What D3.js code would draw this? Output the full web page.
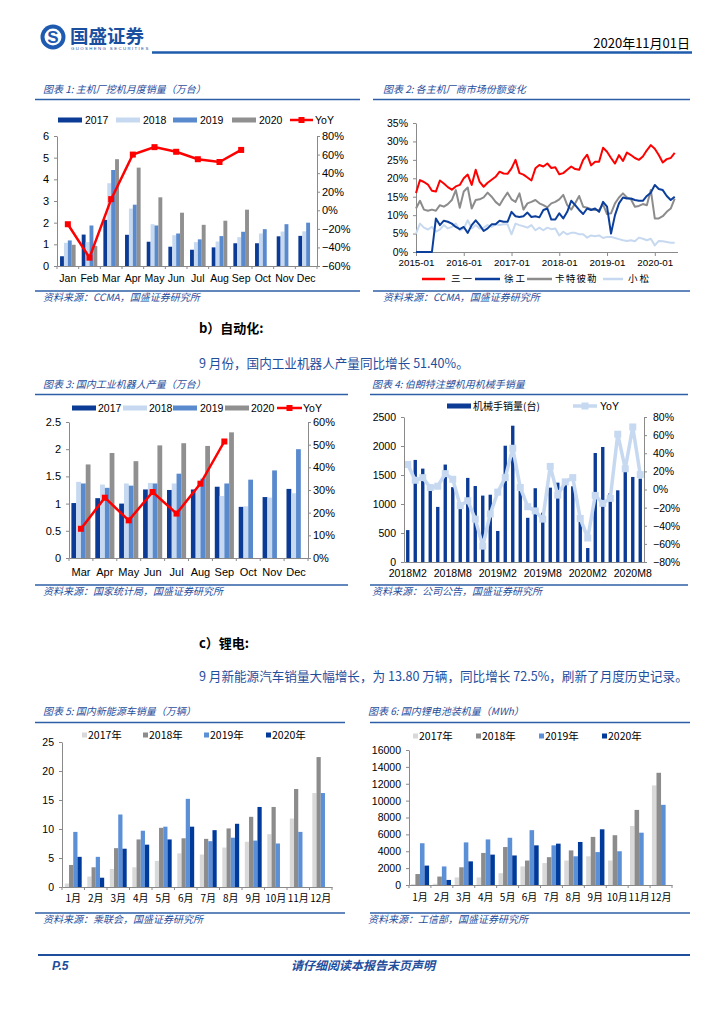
<!DOCTYPE html>
<html>
<head>
<meta charset="utf-8">
<script src="https://cdn.jsdelivr.net/npm/d3@7"></script>
<style>
  body { margin: 0; background: #fff; }
  svg { display: block; }
</style>
</head>
<body>
<svg id="page" width="724" height="1024"></svg>
<script>
// ---- data ----

// chart 1: excavator monthly sales (10k units)
const excMonths = ["Jan","Feb","Mar","Apr","May","Jun","Jul","Aug","Sep","Oct","Nov","Dec"];
const exc2017 = [0.45,1.45,2.13,1.44,1.12,0.89,0.75,0.86,1.05,1.05,1.37,1.39];
const exc2018 = [1.07,1.10,3.82,2.65,1.93,1.42,1.10,1.13,1.33,1.50,1.59,1.60];
const exc2019 = [1.18,1.87,4.43,2.83,1.87,1.50,1.23,1.38,1.58,1.70,1.93,2.00];
const exc2020 = [0.98,0.92,4.93,4.54,3.17,2.46,1.90,2.09,2.60,null,null,null];
const excYoY  = [-0.15,-0.51,0.12,0.60,0.68,0.63,0.55,0.52,0.65];

// chart 2: market share, monthly 2015-01 .. 2020-06
const shareTicks = ["2015-01","2016-01","2017-01","2018-01","2019-01","2020-01"];
const shareSany = [16.0,19.5,19.0,18.3,16.6,16.4,19.4,18.6,17.6,16.9,17.8,18.2,20.0,21.0,18.2,22.3,19.0,17.7,18.8,19.6,20.4,21.8,21.3,21.2,22.7,25.0,21.4,21.0,20.2,19.4,22.7,23.6,23.2,24.0,22.8,23.0,21.1,21.4,22.3,23.2,22.5,22.3,25.0,26.4,23.5,24.5,24.5,28.3,27.2,25.5,24.0,26.3,24.7,27.0,26.3,25.5,25.0,25.9,27.6,29.0,28.0,26.3,24.3,25.2,25.5,26.9];
const shareXcmg = [0,0,0,0,0,9.1,7.3,8.5,8.2,7.7,6.8,6.2,6.8,5.2,7.3,8.6,7.3,5.7,6.4,7.5,7.5,8.5,8.2,8.2,10.9,9.7,9.5,9.7,10.7,9.5,9.7,9.4,11.4,11.8,8.8,8.8,10.5,9.1,10.9,13.9,12.7,11.4,10.3,11.8,11.4,11.8,10.9,13.6,12.3,5.0,10.0,13.2,14.8,14.5,14.5,14.1,13.9,13.9,15.2,16.1,18.2,17.1,16.8,15.2,14.1,15.0];
const shareCat  = [11.8,13.9,11.5,11.2,11.5,11.2,12.7,12.3,13.0,14.1,16.8,12.0,16.4,17.5,11.8,14.1,14.3,14.8,16.1,15.0,13.6,12.7,14.5,16.1,14.3,13.6,15.9,11.5,13.2,13.6,14.1,13.2,12.7,12.1,13.2,13.6,14.3,15.5,12.7,11.5,13.2,15.2,12.3,12.0,11.6,11.4,11.4,12.9,10.3,10.5,13.2,14.8,15.9,14.8,14.3,12.3,12.5,13.0,12.7,16.8,9.1,9.1,9.7,10.9,11.8,14.5];
const shareKom  = [5.0,7.7,6.6,6.1,6.8,5.5,6.1,7.3,6.4,6.8,7.7,5.9,6.4,8.6,6.4,7.3,6.4,6.6,7.3,6.8,7.5,7.3,7.5,7.5,4.8,7.7,7.3,7.0,6.6,7.3,5.9,6.6,5.9,6.6,6.2,6.4,4.5,5.5,4.8,5.2,5.2,4.8,4.8,3.9,4.5,4.3,4.5,3.8,4.1,4.1,3.8,3.5,3.2,3.0,3.2,2.9,3.9,3.6,3.2,3.6,1.8,3.0,2.9,2.7,2.5,2.5];
const shareNames = ["三一","徐工","卡特彼勒","小松"];

// chart 3: industrial robot output (10k units)
const robotMonths = ["Mar","Apr","May","Jun","Jul","Aug","Sep","Oct","Nov","Dec"];
const robot2017 = [1.01,1.10,1.00,1.26,1.25,1.26,1.31,0.94,1.12,1.27];
const robot2018 = [1.40,1.35,1.37,1.38,1.37,1.30,1.14,0.95,1.11,1.19];
const robot2019 = [1.37,1.29,1.33,1.37,1.55,1.46,1.37,1.44,1.61,2.00];
const robot2020 = [1.72,1.93,1.78,2.07,2.11,2.06,2.31,null,null,null];
const robotYoY  = [0.129,0.266,0.166,0.291,0.196,0.328,0.514];

// chart 4: Borunte manipulator sales, 2018M2 .. 2020M9
const armTicks = ["2018M2","2018M8","2019M2","2019M8","2020M2","2020M8"];
const armSales = [550,1760,1610,1235,950,1680,1290,920,1450,1310,1145,1160,535,2005,2350,1340,762,1272,850,1282,1368,1350,1305,760,241,1879,1983,1190,1236,1560,1466,1437];
const armYoY   = [0.276,0.102,0.131,0.022,0.036,0.175,0.113,-0.178,-0.124,-0.327,-0.625,-0.27,-0.029,0.131,0.455,0.022,-0.19,-0.236,-0.327,0.255,-0.062,0.084,0.131,-0.32,-0.535,-0.065,-0.153,-0.098,0.61,0.229,0.69,0.164];

// chart 5: NEV sales (10k)
const cnMonths = ["1月","2月","3月","4月","5月","6月","7月","8月","9月","10月","11月","12月"];
const nev2017 = [0.6,1.8,3.1,3.4,4.5,5.8,5.6,6.8,7.8,9.1,11.8,16.2];
const nev2018 = [3.8,3.4,6.7,8.2,10.2,8.4,8.3,10.1,12.1,13.8,16.9,22.4];
const nev2019 = [9.5,5.2,12.5,9.7,10.4,15.2,7.9,8.5,8.0,7.5,9.5,16.2];
const nev2020 = [5.2,1.6,6.6,7.3,8.2,10.4,9.8,10.9,13.8,null,null,null];

// chart 6: battery installations (MWh)
const bat2017 = [100,150,900,900,1400,2200,2600,2900,3400,2900,7000,11800];
const bat2018 = [1300,1000,2100,3800,4500,2900,3300,4100,5700,5900,8900,13300];
const bat2019 = [4950,2200,5050,5400,5600,6500,4700,3400,3900,4000,6200,9500];
const bat2020 = [2300,600,2800,3600,3500,4700,4900,5100,6600,null,null,null];

const yearsCn  = ["2017年","2018年","2019年","2020年"];

// ---- styles ----
const CN = "'Noto Sans CJK SC', 'Noto Sans', sans-serif";
const NUM = "'Liberation Sans', Arial, sans-serif";
const BLUE = "#1f4e9c";
const AX = "#8a8a8a";
const C17 = "#0b3b94", C18 = "#c6d9f0", C19 = "#5a8ace", C20 = "#909090";
const N17 = "#d9d9d9", N18 = "#8c8c8c", N19 = "#5b8fd6", N20 = "#003a9b";

const svg = d3.select("#page");
svg.append("rect").attr("width", 724).attr("height", 1024).attr("fill", "#fff");

// ---- page header ----
svg.append("circle").attr("cx", 53).attr("cy", 37).attr("r", 12.5).attr("fill", "#1e5bb0");
svg.append("circle").attr("cx", 53).attr("cy", 37).attr("r", 8.5).attr("fill", "#fff");
svg.append("text").attr("x", 53).attr("y", 43).attr("text-anchor", "middle")
  .style("font-family", NUM).style("font-weight", "bold").style("font-size", "17px")
  .attr("fill", "#1e5bb0").text("S");
svg.append("text").attr("x", 70).attr("y", 43)
  .style("font-family", CN).style("font-weight", "bold").style("font-size", "18.5px")
  .attr("fill", "#1a4f9f").text("国盛证券");
svg.append("text").attr("x", 71).attr("y", 50)
  .style("font-family", NUM).style("font-size", "4.3px").style("letter-spacing", "1.4px")
  .attr("fill", "#1a4f9f").text("GUOSHENG SECURITIES");
svg.append("text").attr("x", 690).attr("y", 48).attr("text-anchor", "end")
  .style("font-family", CN).style("font-size", "13px").attr("fill", "#000")
  .text("2020年11月01日");
svg.append("line").attr("x1", 152).attr("x2", 692).attr("y1", 52.5).attr("y2", 52.5)
  .attr("stroke", "#1f5cad").attr("stroke-width", 2.5);

// ---- page footer ----
svg.append("line").attr("x1", 38).attr("x2", 690).attr("y1", 955).attr("y2", 955)
  .attr("stroke", BLUE).attr("stroke-width", 2);
svg.append("text").attr("x", 52).attr("y", 970)
  .style("font-family", NUM).style("font-weight", "bold").style("font-style", "italic")
  .style("font-size", "12px").attr("fill", BLUE).text("P.5");
svg.append("text").attr("x", 363).attr("y", 970).attr("text-anchor", "middle")
  .style("font-family", CN).style("font-weight", "bold").style("font-style", "italic")
  .style("font-size", "12px").attr("fill", BLUE).text("请仔细阅读本报告末页声明");

// ---- body text ----
function bodyText(x, y, str, color, bold, fs) {
  svg.append("text").attr("x", x).attr("y", y)
    .style("font-family", CN).style("font-size", fs + "px")
    .style("font-weight", bold ? "bold" : "normal")
    .attr("fill", color).text(str);
}
bodyText(199, 333, "b）自动化:", "#000", true, 13);
bodyText(199, 368, "9 月份，国内工业机器人产量同比增长 51.40%。", BLUE, false, 12.6);
bodyText(199, 648, "c）锂电:", "#000", true, 13);
bodyText(199, 681, "9 月新能源汽车销量大幅增长，为 13.80 万辆，同比增长 72.5%，刷新了月度历史记录。", BLUE, false, 12.6);

// ---- helpers ----
function frame(tx, ty, title, x1, x2, lineY, botY, source) {
  svg.append("text").attr("x", tx).attr("y", ty)
    .style("font-family", CN).style("font-style", "italic").style("font-size", "10px")
    .attr("fill", BLUE).text(title);
  svg.append("line").attr("x1", x1).attr("x2", x2).attr("y1", lineY).attr("y2", lineY)
    .attr("stroke", "#2e5fa6").attr("stroke-width", 1.5);
  svg.append("line").attr("x1", x1).attr("x2", x2).attr("y1", botY).attr("y2", botY)
    .attr("stroke", "#2e5fa6").attr("stroke-width", 1.5);
  svg.append("text").attr("x", tx).attr("y", botY + 10)
    .style("font-family", CN).style("font-style", "italic").style("font-size", "10px")
    .attr("fill", BLUE).text(source);
}

function styleAxis(g, fs, family) {
  g.select(".domain").attr("stroke", AX);
  g.selectAll(".tick line").attr("stroke", AX);
  g.selectAll(".tick text").attr("fill", "#000")
    .style("font-family", family || NUM).style("font-size", fs + "px");
}

function catTicks(g, x, y0, len) {
  const edges = x.domain().map(d => x(d)).concat([x.range()[1]]);
  g.selectAll(null).data(edges).enter().append("line")
    .attr("x1", d => d).attr("x2", d => d).attr("y1", y0).attr("y2", y0 + len)
    .attr("stroke", AX);
}

function groupedBars(g, x, y, cats, seriesList, colors, outerPad) {
  const inner = d3.scaleBand().domain(d3.range(seriesList.length))
    .range([0, x.bandwidth()]).paddingOuter(outerPad);
  seriesList.forEach((vals, si) => {
    g.selectAll(null).data(cats.map((c, i) => ({c: c, v: vals[i]})).filter(d => d.v != null))
      .enter().append("rect")
      .attr("x", d => x(d.c) + inner(si))
      .attr("width", inner.bandwidth())
      .attr("y", d => y(d.v))
      .attr("height", d => y(0) - y(d.v))
      .attr("fill", colors[si]);
  });
}

function legendBar(g, x, y, w, h, color, label, tx, fs, family) {
  g.append("rect").attr("x", x).attr("y", y - h / 2).attr("width", w).attr("height", h).attr("fill", color);
  g.append("text").attr("x", tx).attr("y", y + fs * 0.36)
    .style("font-family", family || NUM).style("font-size", fs + "px").attr("fill", "#000").text(label);
}

function legendLine(g, x1, x2, y, color, sw, marker, label, tx, fs, family, spacing) {
  g.append("line").attr("x1", x1).attr("x2", x2).attr("y1", y).attr("y2", y)
    .attr("stroke", color).attr("stroke-width", sw);
  if (marker) {
    g.append("rect").attr("x", (x1 + x2) / 2 - marker / 2).attr("y", y - marker / 2)
      .attr("width", marker).attr("height", marker).attr("fill", color);
  }
  g.append("text").attr("x", tx).attr("y", y + fs * 0.36)
    .style("font-family", family || NUM).style("font-size", fs + "px")
    .style("letter-spacing", (spacing || 0) + "px").attr("fill", "#000").text(label);
}

const pct = d3.format(".0%");
const plain = d3.format("d");

// ================= chart 1 =================
frame(43, 93, "图表 1:  主机厂挖机月度销量（万台）", 35, 360, 99.5, 291, "资料来源：CCMA，国盛证券研究所");
{
  const g = svg.append("g");
  const x = d3.scaleBand().domain(excMonths).range([57, 317]);
  const y = d3.scaleLinear().domain([0, 6]).range([266, 136]);
  const yR = d3.scaleLinear().domain([-0.6, 0.8]).range([266, 136]);

  groupedBars(g, x, y, excMonths, [exc2017, exc2018, exc2019, exc2020], [C17, C18, C19, C20], 0.78);

  const line = d3.line().x((d, i) => x(excMonths[i]) + x.bandwidth() / 2).y(d => yR(d));
  g.append("path").datum(excYoY).attr("d", line).attr("fill", "none")
    .attr("stroke", "#ff0000").attr("stroke-width", 2.5);
  g.selectAll(null).data(excYoY).enter().append("rect")
    .attr("x", (d, i) => x(excMonths[i]) + x.bandwidth() / 2 - 3).attr("y", d => yR(d) - 3)
    .attr("width", 6).attr("height", 6).attr("fill", "#ff0000");

  styleAxis(g.append("g").attr("transform", "translate(57,0)")
    .call(d3.axisLeft(y).ticks(6).tickSize(3).tickPadding(5).tickSizeOuter(0)), 11);
  styleAxis(g.append("g").attr("transform", "translate(317,0)")
    .call(d3.axisRight(yR).tickValues(d3.range(-0.6, 0.81, 0.2)).tickFormat(pct).tickSize(3).tickPadding(2).tickSizeOuter(0)), 11);
  const bx = g.append("g").attr("transform", "translate(0,266)")
    .call(d3.axisBottom(x).tickSize(0).tickPadding(9).tickSizeOuter(0));
  styleAxis(bx, 10.5);
  catTicks(g, x, 266, 3);

  const lg = svg.append("g");
  legendBar(lg, 58, 120, 24, 5, C17, "2017", 85, 10.5);
  legendBar(lg, 116, 120, 24, 5, C18, "2018", 143, 10.5);
  legendBar(lg, 173, 120, 24, 5, C19, "2019", 200, 10.5);
  legendBar(lg, 232, 120, 24, 5, C20, "2020", 259, 10.5);
  legendLine(lg, 290, 313, 120, "#ff0000", 2.5, 6, "YoY", 315, 10.5);
}

// ================= chart 2 =================
frame(383, 93, "图表 2:  各主机厂商市场份额变化", 373, 690, 99.5, 291, "资料来源：CCMA，国盛证券研究所");
{
  const g = svg.append("g");
  const x = d3.scaleLinear().domain([0, shareSany.length - 1]).range([416, 674.7]);
  const y = d3.scaleLinear().domain([0, 35]).range([252, 123]);

  styleAxis(g.append("g").attr("transform", "translate(416,0)")
    .call(d3.axisLeft(y).tickValues(d3.range(0, 36, 5)).tickFormat(d => d + "%").tickSize(3).tickPadding(5).tickSizeOuter(0)), 10.5);
  const bx = g.append("g").attr("transform", "translate(0,252)")
    .call(d3.axisBottom(x).tickValues(shareTicks.map((t, i) => i * 12))
      .tickFormat((d, i) => shareTicks[i]).tickSize(4).tickPadding(3).tickSizeOuter(0));
  bx.select(".domain").attr("d", "M416,0.5H678");
  styleAxis(bx, 9.8);

  const colors = ["#ff0000", "#0b3f9b", "#8c8c8c", "#c6d9f0"];
  const series = [shareKom, shareCat, shareXcmg, shareSany];
  const scol = [colors[3], colors[2], colors[1], colors[0]];
  const line = d3.line().x((d, i) => x(i)).y(d => y(d));
  series.forEach((s, k) => {
    g.append("path").datum(s).attr("d", line).attr("fill", "none")
      .attr("stroke", scol[k]).attr("stroke-width", 2).attr("stroke-linejoin", "round");
  });

  const lg = svg.append("g");
  const ly = 279;
  legendLine(lg, 422, 445, ly, colors[0], 2.5, 0, shareNames[0], 451, 9.5, CN, 2);
  legendLine(lg, 475, 500, ly, colors[1], 2.5, 0, shareNames[1], 504, 9.5, CN, 2);
  legendLine(lg, 527, 552, ly, colors[2], 2.5, 0, shareNames[2], 555, 9.5, CN, 1.2);
  legendLine(lg, 603, 623, ly, colors[3], 2.5, 0, shareNames[3], 628, 9.5, CN, 2);
}

// ================= chart 3 =================
frame(43, 388, "图表 3:  国内工业机器人产量（万台）", 35, 348, 394.5, 585, "资料来源：国家统计局，国盛证券研究所");
{
  const g = svg.append("g");
  const x = d3.scaleBand().domain(robotMonths).range([69, 308]);
  const y = d3.scaleLinear().domain([0, 2.5]).range([558, 422]);
  const yR = d3.scaleLinear().domain([0, 0.6]).range([558, 422]);

  groupedBars(g, x, y, robotMonths, [robot2017, robot2018, robot2019, robot2020], [C17, C18, C19, C20], 0.5);

  const line = d3.line().x((d, i) => x(robotMonths[i]) + x.bandwidth() / 2).y(d => yR(d));
  g.append("path").datum(robotYoY).attr("d", line).attr("fill", "none")
    .attr("stroke", "#ff0000").attr("stroke-width", 2.5);
  g.selectAll(null).data(robotYoY).enter().append("rect")
    .attr("x", (d, i) => x(robotMonths[i]) + x.bandwidth() / 2 - 3).attr("y", d => yR(d) - 3)
    .attr("width", 6).attr("height", 6).attr("fill", "#ff0000");

  styleAxis(g.append("g").attr("transform", "translate(69,0)")
    .call(d3.axisLeft(y).tickValues(d3.range(0, 2.51, 0.5)).tickFormat(d3.format("~g")).tickSize(3).tickPadding(5).tickSizeOuter(0)), 11);
  styleAxis(g.append("g").attr("transform", "translate(308,0)")
    .call(d3.axisRight(yR).tickValues(d3.range(0, 0.61, 0.1)).tickFormat(pct).tickSize(3).tickPadding(2).tickSizeOuter(0)), 11);
  const bx = g.append("g").attr("transform", "translate(0,558)")
    .call(d3.axisBottom(x).tickSize(0).tickPadding(10).tickSizeOuter(0));
  styleAxis(bx, 11);
  catTicks(g, x, 558, 3);

  const lg = svg.append("g");
  legendBar(lg, 72, 408, 24, 5, C17, "2017", 98, 10.5);
  legendBar(lg, 123, 408, 24, 5, C18, "2018", 149, 10.5);
  legendBar(lg, 173, 408, 24, 5, C19, "2019", 200, 10.5);
  legendBar(lg, 225, 408, 24, 5, C20, "2020", 251, 10.5);
  legendLine(lg, 277, 302, 408, "#ff0000", 2.5, 6, "YoY", 303, 10.5);
}

// ================= chart 4 =================
frame(372, 388, "图表 4:  伯朗特注塑机用机械手销量", 370, 688, 394.5, 585, "资料来源：公司公告，国盛证券研究所");
{
  const g = svg.append("g");
  const armMonths = armSales.map((d, i) => {
    const m = i + 1; // 2018M2 is index 0
    return (2018 + Math.floor(m / 12)) + "M" + (m % 12 + 1);
  });
  const x = d3.scaleBand().domain(armMonths).range([404, 644]).paddingInner(0.55).paddingOuter(0.275);
  const y = d3.scaleLinear().domain([0, 2500]).range([562, 417]);
  const yR = d3.scaleLinear().domain([-0.8, 0.8]).range([562, 417]);

  g.selectAll(null).data(armSales).enter().append("rect")
    .attr("x", (d, i) => x(armMonths[i])).attr("width", x.bandwidth())
    .attr("y", d => y(d)).attr("height", d => y(0) - y(d)).attr("fill", C17);

  const cx = i => x(armMonths[i]) + x.bandwidth() / 2;
  const line = d3.line().x((d, i) => cx(i)).y(d => yR(d));
  g.append("path").datum(armYoY).attr("d", line).attr("fill", "none")
    .attr("stroke", "#c6d9f1").attr("stroke-width", 3.5).attr("stroke-linejoin", "round");
  g.selectAll(null).data(armYoY).enter().append("rect")
    .attr("x", (d, i) => cx(i) - 3.5).attr("y", d => yR(d) - 3.5)
    .attr("width", 7).attr("height", 7).attr("fill", "#c6d9f1");

  styleAxis(g.append("g").attr("transform", "translate(404,0)")
    .call(d3.axisLeft(y).tickValues(d3.range(0, 2501, 500)).tickFormat(plain).tickSize(3).tickPadding(5).tickSizeOuter(0)), 10.5);
  styleAxis(g.append("g").attr("transform", "translate(644,0)")
    .call(d3.axisRight(yR).tickValues(d3.range(-0.8, 0.81, 0.2)).tickFormat(pct).tickSize(3).tickPadding(6).tickSizeOuter(0)), 10.5);
  const bx = g.append("g").attr("transform", "translate(0,562)")
    .call(d3.axisBottom(x).tickValues(armTicks).tickSize(0).tickPadding(8).tickSizeOuter(0));
  styleAxis(bx, 10.5);

  const lg = svg.append("g");
  legendBar(lg, 447, 406, 24, 5, C17, "机械手销量(台)", 473, 10, CN);
  legendLine(lg, 573, 597, 406, "#c6d9f1", 3.5, 7, "YoY", 600, 10.5);
}

// ================= chart 5 =================
frame(43, 715, "图表 5:  国内新能源车销量（万辆）", 35, 345, 722.5, 913, "资料来源：乘联会，国盛证券研究所");
{
  const g = svg.append("g");
  const x = d3.scaleBand().domain(cnMonths).range([62, 332]);
  const y = d3.scaleLinear().domain([0, 25]).range([887, 742]);

  groupedBars(g, x, y, cnMonths, [nev2017, nev2018, nev2019, nev2020], [N17, N18, N19, N20], 0.667);

  styleAxis(g.append("g").attr("transform", "translate(62,0)")
    .call(d3.axisLeft(y).tickValues(d3.range(0, 26, 5)).tickSize(3).tickPadding(5).tickSizeOuter(0)), 10.5);
  const bx = g.append("g").attr("transform", "translate(0,887)")
    .call(d3.axisBottom(x).tickSize(0).tickPadding(8).tickSizeOuter(0));
  styleAxis(bx, 10, CN);
  catTicks(g, x, 887, 3);

  const lg = svg.append("g");
  [N17, N18, N19, N20].forEach((c, i) => {
    const sx = [82, 143, 204, 266][i];
    legendBar(lg, sx, 735, 5, 5, c, yearsCn[i], sx + 6, 10.5, CN);
  });
}

// ================= chart 6 =================
frame(368, 715, "图表 6:  国内锂电池装机量（MWh）", 370, 690, 722.5, 913, "资料来源：工信部，国盛证券研究所");
{
  const g = svg.append("g");
  const x = d3.scaleBand().domain(cnMonths).range([409, 672]);
  const y = d3.scaleLinear().domain([0, 16000]).range([885, 750]);

  groupedBars(g, x, y, cnMonths, [bat2017, bat2018, bat2019, bat2020], [N17, N18, N19, N20], 0.4);

  styleAxis(g.append("g").attr("transform", "translate(409,0)")
    .call(d3.axisLeft(y).tickValues(d3.range(0, 16001, 2000)).tickFormat(plain).tickSize(3).tickPadding(5).tickSizeOuter(0)), 10.5);
  const bx = g.append("g").attr("transform", "translate(0,885)")
    .call(d3.axisBottom(x).tickSize(0).tickPadding(9).tickSizeOuter(0));
  styleAxis(bx, 10, CN);
  catTicks(g, x, 885, 3);

  const lg = svg.append("g");
  [N17, N18, N19, N20].forEach((c, i) => {
    const sx = [413, 476, 539, 602][i];
    legendBar(lg, sx, 736, 5, 5, c, yearsCn[i], sx + 6, 10.5, CN);
  });
}
</script>
</body>
</html>
